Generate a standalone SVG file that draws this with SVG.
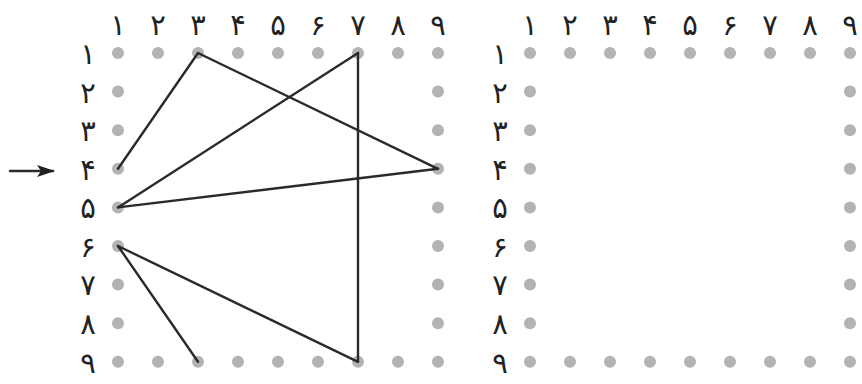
<svg xmlns="http://www.w3.org/2000/svg" width="862" height="384" viewBox="0 0 862 384">
<style>
.d{fill:#b3b3b3}
.t{font-family:"DejaVu Sans",sans-serif;font-size:29px;fill:#222;text-anchor:middle}
.c line{stroke:#2a2a2a;stroke-width:2.4;stroke-linecap:round}
</style>
<defs>
<marker id="ah" markerWidth="18" markerHeight="14" refX="16" refY="7" orient="auto" markerUnits="userSpaceOnUse"><path d="M0,1 L18,7 L0,13 L4,7 Z" fill="#222"/></marker>
<g id="grid">
<g class="t">
<text x="0" y="35">۱</text><text x="40" y="35">۲</text><text x="80" y="35">۳</text><text x="120" y="35">۴</text><text x="160" y="35">۵</text><text x="200" y="35">۶</text><text x="240" y="35">۷</text><text x="280" y="35">۸</text><text x="320" y="35">۹</text>
<text x="-30" y="64">۱</text><text x="-30" y="103">۲</text><text x="-30" y="141">۳</text><text x="-30" y="180">۴</text><text x="-30" y="218">۵</text><text x="-30" y="257">۶</text><text x="-30" y="295">۷</text><text x="-30" y="334">۸</text><text x="-30" y="373">۹</text>
</g>
<g class="d">
<circle cx="0" cy="53" r="6"/><circle cx="40" cy="53" r="6"/><circle cx="80" cy="53" r="6"/><circle cx="120" cy="53" r="6"/><circle cx="160" cy="53" r="6"/><circle cx="200" cy="53" r="6"/><circle cx="240" cy="53" r="6"/><circle cx="280" cy="53" r="6"/><circle cx="320" cy="53" r="6"/>
<circle cx="0" cy="91.6" r="6"/><circle cx="320" cy="91.6" r="6"/>
<circle cx="0" cy="130.2" r="6"/><circle cx="320" cy="130.2" r="6"/>
<circle cx="0" cy="168.8" r="6"/><circle cx="320" cy="168.8" r="6"/>
<circle cx="0" cy="207.4" r="6"/><circle cx="320" cy="207.4" r="6"/>
<circle cx="0" cy="246" r="6"/><circle cx="320" cy="246" r="6"/>
<circle cx="0" cy="284.6" r="6"/><circle cx="320" cy="284.6" r="6"/>
<circle cx="0" cy="323.2" r="6"/><circle cx="320" cy="323.2" r="6"/>
<circle cx="0" cy="361.8" r="6"/><circle cx="40" cy="361.8" r="6"/><circle cx="80" cy="361.8" r="6"/><circle cx="120" cy="361.8" r="6"/><circle cx="160" cy="361.8" r="6"/><circle cx="200" cy="361.8" r="6"/><circle cx="240" cy="361.8" r="6"/><circle cx="280" cy="361.8" r="6"/><circle cx="320" cy="361.8" r="6"/>
</g>
</g>
</defs>
<rect width="862" height="384" fill="#fff"/>
<g id="left-grid"><use href="#grid" x="118" y="0"/></g>
<g id="right-grid"><use href="#grid" x="530" y="0"/></g>
<g id="connectors" class="c">
<line x1="198" y1="53" x2="118" y2="168.8"/>
<line x1="198" y1="53" x2="438" y2="168.8"/>
<line x1="358" y1="53" x2="118" y2="207.4"/>
<line x1="358" y1="53" x2="358" y2="361.8"/>
<line x1="118" y1="207.4" x2="438" y2="168.8"/>
<line x1="118" y1="246" x2="198" y2="361.8"/>
<line x1="118" y1="246" x2="358" y2="361.8"/>
<line x1="10" y1="171" x2="53" y2="171" marker-end="url(#ah)"/>
</g>
</svg>
